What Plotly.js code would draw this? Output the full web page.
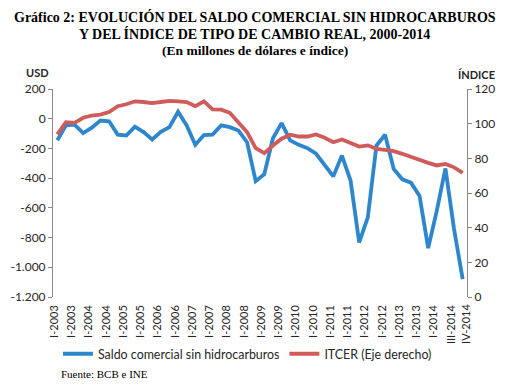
<!DOCTYPE html>
<html>
<head>
<meta charset="utf-8">
<script src="https://cdn.plot.ly/plotly-3.0.1.min.js"></script>
<style>
html,body{margin:0;padding:0;background:#fff;}
#chart{width:514px;height:391px;}
</style>
</head>
<body>
<div id="chart"></div>
<script>
const categories = [
  'I-2003','II-2003','III-2003','IV-2003','I-2004','II-2004','III-2004','IV-2004',
  'I-2005','II-2005','III-2005','IV-2005','I-2006','II-2006','III-2006','IV-2006',
  'I-2007','II-2007','III-2007','IV-2007','I-2008','II-2008','III-2008','IV-2008',
  'I-2009','II-2009','III-2009','IV-2009','I-2010','II-2010','III-2010','IV-2010',
  'I-2011','II-2011','III-2011','IV-2011','I-2012','II-2012','III-2012','IV-2012',
  'I-2013','II-2013','III-2013','IV-2013','I-2014','II-2014','III-2014','IV-2014'
];
const saldo = [
  -145,-45,-40,-97,-60,-12,-17,-107,
  -113,-53,-90,-140,-88,-57,47,-45,
  -176,-110,-107,-45,-57,-80,-158,-420,
  -373,-131,-30,-146,-176,-198,-236,-315,
  -388,-248,-416,-833,-664,-180,-108,-338,
  -408,-430,-520,-871,-619,-335,-743,-1080
];
const itcer = [
  93.8,100.9,100.5,103.4,104.7,105.2,106.7,110.1,
  111.2,112.9,112.5,111.9,112.5,113.2,112.9,112.5,
  110.1,112.9,108.3,108.1,106.3,100.9,95.1,85.9,
  83.0,87.4,91.3,93.6,92.6,92.6,93.8,91.9,
  89.3,90.9,89.0,86.8,87.5,85.5,84.9,84.1,
  82.6,80.7,78.8,77.4,75.9,76.8,74.8,71.6
];
const xTickLabels = [
  'I-2003','III-2003','I-2004','III-2004','I-2005','III-2005','I-2006','III-2006',
  'I-2007','III-2007','I-2008','III-2008','I-2009','III-2009','I-2010','III-2010',
  'I-2011','III-2011','I-2012','III-2012','I-2013','III-2013','I-2014','III-2014'
];
const lastTickLabel = 'IV-2014';
const usdTicks = [200,0,-200,-400,-600,-800,-1000,-1200];
const usdTickText = ['200','0','-200','-400','-600','-800','-1.000','-1.200'];
const idxTicks = [0,20,40,60,80,100,120];
const idxTickText = ['0','20','40','60','80','100','120'];

const sans = 'Lato, "Liberation Sans", sans-serif';
const serif = '"Liberation Serif", "Times New Roman", serif';
const axisGray = '#8a8a8a';
const textCol = '#262626';

// category boundaries for tick marks on the zero line
const boundaries = [];
for (let i = 0; i <= categories.length; i++) boundaries.push(i - 0.5);

const traces = [
  {
    x: categories, y: saldo, type: 'scatter', mode: 'lines',
    name: 'Saldo comercial sin hidrocarburos',
    line: {color: '#2E86CC', width: 3.8},
    xaxis: 'x', yaxis: 'y'
  },
  {
    x: categories, y: itcer, type: 'scatter', mode: 'lines',
    name: 'ITCER (Eje derecho)',
    line: {color: '#CF5C5A', width: 3.8},
    xaxis: 'x', yaxis: 'y2'
  }
];

const yMin = usdTicks[usdTicks.length - 1], yMax = usdTicks[0];
const zeroPos = (0 - yMin) / (yMax - yMin);

const layout = {
  width: 514, height: 391,
  margin: {l: 53, r: 47, t: 89, b: 94},
  paper_bgcolor: '#fff', plot_bgcolor: '#fff',
  showlegend: true,
  legend: {
    orientation: 'h', x: 0.012, xanchor: 'left', y: -0.275, yanchor: 'middle',
    font: {family: sans, size: 12.4, color: textCol},
    itemwidth: 30, tracegroupgap: 0
  },
  xaxis: {
    type: 'category', range: [-0.5, categories.length - 0.5],
    tickmode: 'array', tickvals: xTickLabels, ticktext: xTickLabels,
    tickangle: -90, ticks: '', showline: false, showgrid: false, zeroline: false,
    tickfont: {family: sans, size: 11, color: textCol},
    ticklabelstandoff: 5, ticklabelshift: -3, fixedrange: true
  },
  xaxis2: {
    overlaying: 'x', anchor: 'free', position: zeroPos,
    range: [-0.5, categories.length - 0.5],
    tickmode: 'array', tickvals: boundaries, showticklabels: false,
    ticks: 'outside', ticklen: 4, tickcolor: axisGray, tickwidth: 1,
    showline: true, linecolor: axisGray, linewidth: 1,
    showgrid: false, zeroline: false, side: 'bottom'
  },
  yaxis: {
    range: [yMin, yMax], tickmode: 'array', tickvals: usdTicks, ticktext: usdTickText,
    showline: true, linecolor: axisGray, ticks: 'outside', ticklen: 4, tickcolor: axisGray,
    showgrid: false, zeroline: false,
    tickfont: {family: sans, size: 12, color: textCol}
  },
  yaxis2: {
    overlaying: 'y', side: 'right', range: [idxTicks[0], idxTicks[idxTicks.length - 1]],
    tickmode: 'array', tickvals: idxTicks, ticktext: idxTickText,
    showline: true, linecolor: axisGray, ticks: 'outside', ticklen: 4, tickcolor: axisGray,
    showgrid: false, zeroline: false,
    tickfont: {family: sans, size: 12, color: textCol}
  },
  annotations: [
    {text: '<b>Gráfico 2: EVOLUCIÓN DEL SALDO COMERCIAL SIN HIDROCARBUROS</b>',
     xref: 'paper', yref: 'paper', x: 0.487, y: 1.3438, xanchor: 'center', yanchor: 'middle',
     showarrow: false, font: {family: serif, size: 14, color: '#000'}},
    {text: '<b>Y DEL ÍNDICE DE TIPO DE CAMBIO REAL, 2000-2014</b>',
     xref: 'paper', yref: 'paper', x: 0.487, y: 1.2642, xanchor: 'center', yanchor: 'middle',
     showarrow: false, font: {family: serif, size: 14, color: '#000'}},
    {text: '<b>(En millones de dólares e índice)</b>',
     xref: 'paper', yref: 'paper', x: 0.487, y: 1.1871, xanchor: 'center', yanchor: 'middle',
     showarrow: false, font: {family: serif, size: 13.5, color: '#000'}},
    {text: '<b>USD</b>', xref: 'paper', yref: 'paper', x: -0.037, y: 1.0786,
     xanchor: 'center', yanchor: 'middle', showarrow: false,
     font: {family: sans, size: 11, color: textCol}},
    {text: '<b>ÍNDICE</b>', xref: 'paper', yref: 'paper', x: 1.0237, y: 1.0689,
     xanchor: 'center', yanchor: 'middle', showarrow: false,
     font: {family: sans, size: 11, color: textCol}},
    {text: lastTickLabel, xref: 'paper', yref: 'paper', x: 0.996, y: -0.022,
     xanchor: 'center', yanchor: 'top', textangle: -90, showarrow: false,
     font: {family: sans, size: 11, color: textCol}},
    {text: 'Fuente: BCB e INE', xref: 'paper', yref: 'paper', x: 0.014, y: -0.37,
     xanchor: 'left', yanchor: 'middle', showarrow: false,
     font: {family: serif, size: 11, color: '#000'}}
  ]
};

Plotly.newPlot('chart', traces, layout, {displayModeBar: false, staticPlot: true});
</script>
</body>
</html>
